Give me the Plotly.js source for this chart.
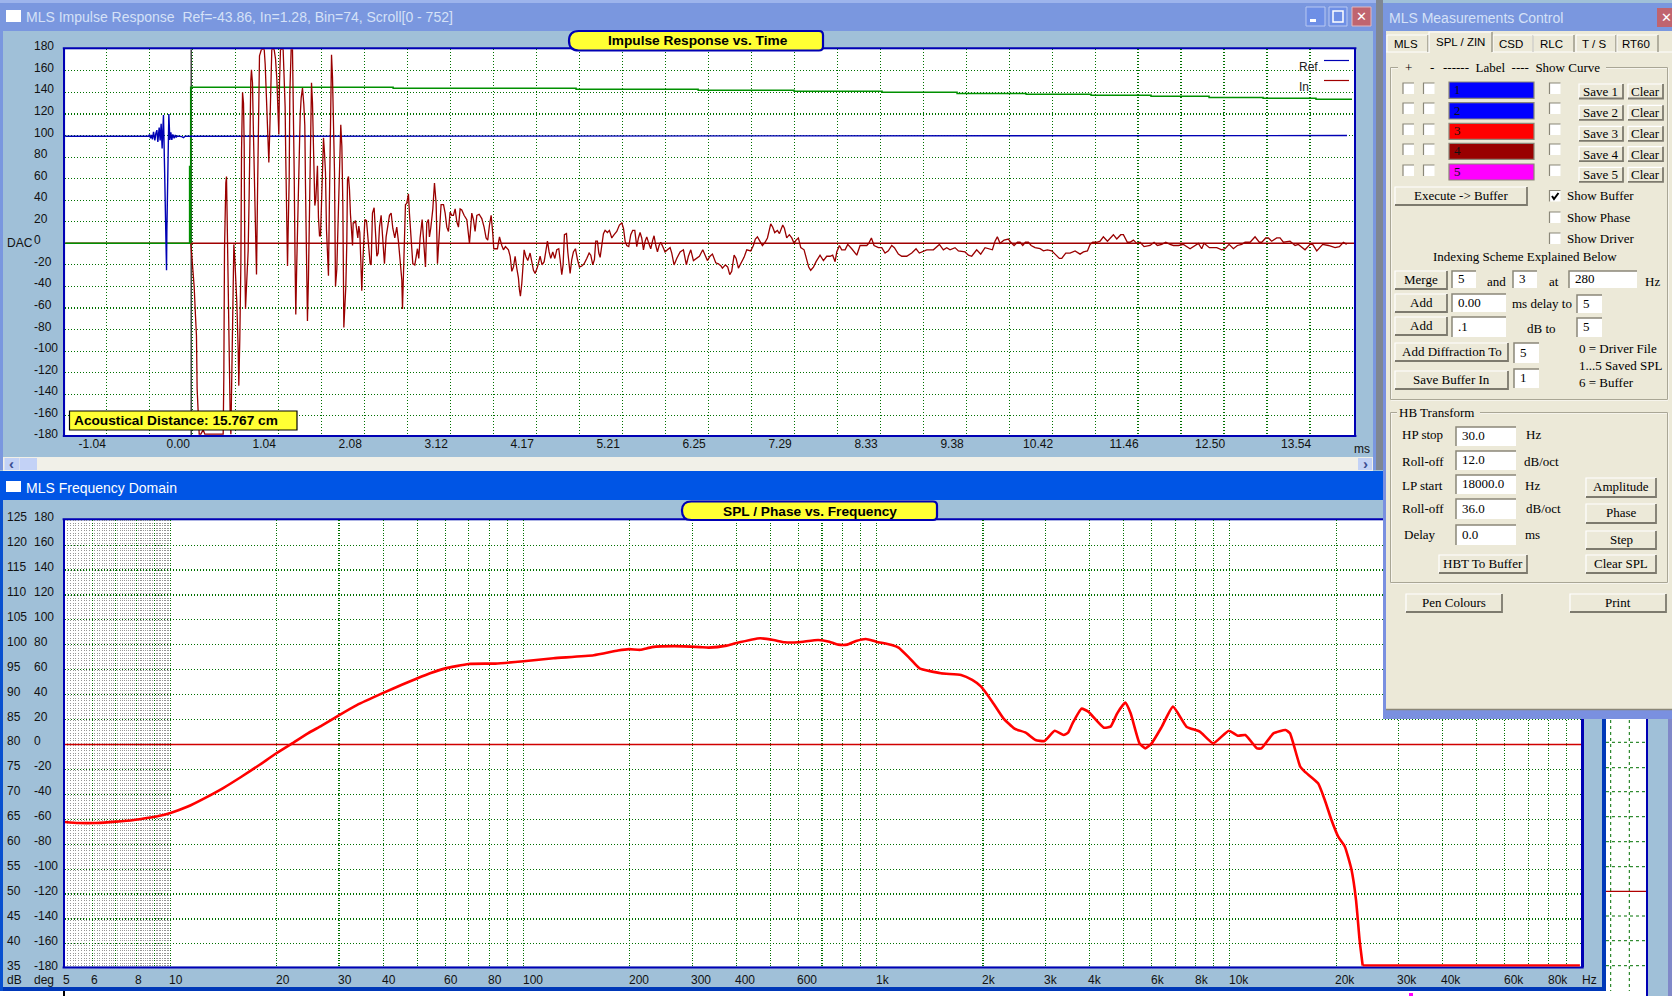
<!DOCTYPE html>
<html><head><meta charset="utf-8">
<script src="https://cdn.plot.ly/plotly-3.0.1.min.js"></script>
<style>html,body{margin:0;padding:0;background:#A0C0D8;overflow:hidden}#chart{width:1672px;height:996px}</style>
</head><body><div id="chart"></div>
<script>
// ---------- Impulse response data (ms / DAC) ----------
const refMs=[-1.55,-0.522,-0.510,-0.498,-0.486,-0.474,-0.461,-0.445,-0.433,-0.421,-0.409,-0.393,-0.381,-0.369,-0.357,-0.341,-0.328,-0.316,-0.304,-0.300,-0.288,-0.276,-0.264,-0.252,-0.240,-0.228,-0.212,-0.199,-0.187,-0.171,-0.119,-0.099,-0.079,-0.018,0.224,0.224,13.97];
const refDac=[99.3,99.3,101,97.5,100.5,96.5,103.5,95.5,102,105,94,107.5,95.5,111,88,119,71,14,-25,12,83,120,96,103,96,101,97.5,100.5,98.5,99.5,99,98,99.3,99.3,99.3,100,100];
const energyMs=[-1.55,-0.025,-0.025,-0.025,-0.012,2.436,4.648,6.124,7.284,8.348,9.255,10.090,10.875,11.600,12.302,12.955,13.595,14.030];
const energyDac=[0,0,72,0,144.7,143.8,142.9,141.9,141.0,140.1,139.1,138.2,137.3,136.4,135.4,134.5,133.6,133.6];
const inMs=[-0.010,-0.002,0.014,0.030,0.046,0.058,0.066,0.079,0.091,0.111,0.139,0.159,0.199,0.381,0.389,0.397,0.413,0.421,0.429,0.441,0.453,0.465,0.474,0.486,0.498,0.510,0.522,0.534,0.546,0.562,0.570,0.582,0.595,0.603,0.615,0.627,0.635,0.643,0.651,0.663,0.683,0.695,0.703,0.715,0.723,0.735,0.748,0.760,0.776,0.784,0.796,0.808,0.820,0.844,0.877,0.889,0.901,0.913,0.925,0.933,0.945,0.957,0.969,0.997,1.014,1.030,1.046,1.054,1.062,1.074,1.106,1.114,1.130,1.138,1.151,1.159,1.167,1.179,1.187,1.203,1.219,1.227,1.239,1.251,1.259,1.271,1.284,1.296,1.312,1.324,1.340,1.356,1.368,1.376,1.388,1.400,1.412,1.425,1.437,1.449,1.461,1.469,1.481,1.489,1.501,1.509,1.521,1.533,1.546,1.558,1.570,1.582,1.594,1.606,1.618,1.630,1.642,1.654,1.666,1.679,1.691,1.703,1.715,1.727,1.739,1.755,1.767,1.779,1.791,1.803,1.816,1.828,1.840,1.852,1.864,1.876,1.884,1.896,1.908,1.920,1.932,1.945,1.953,1.965,1.981,1.997,2.009,2.021,2.033,2.045,2.057,2.069,2.081,2.094,2.114,
2.138,2.158,2.170,2.186,2.206,2.222,2.239,2.255,2.271,2.291,2.311,2.331,2.351,2.371,2.392,2.412,2.432,2.456,2.480,2.500,2.521,2.541,2.549,2.561,2.573,2.585,2.601,2.621,2.633,2.654,2.674,2.698,2.714,2.730,2.746,2.762,2.787,2.803,2.827,2.843,2.863,2.875,2.891,2.916,2.936,2.956,2.972,2.992,3.016,3.045,3.065,3.085,3.105,3.125,3.145,3.165,3.186,3.206,3.226,3.246,3.266,3.294,3.327,3.359,3.387,3.407,3.427,3.448,3.476,3.508,3.536,3.560,3.580,3.601,3.621,3.641,3.653,3.697,3.722,3.750,3.770,3.794,3.830,3.851,3.871,3.891,3.911,3.931,3.951,3.963,3.975,3.992,4.004,4.020,4.040,4.064,4.092,4.112,4.133,4.153,4.181,4.213,4.237,4.262,4.278,4.302,4.322,4.342,4.366,4.391,4.415,4.439,4.455,4.475,4.491,4.507,4.532,4.548,4.576,4.596,4.616,4.640,4.665,4.689,4.717,4.745,4.777,4.806,4.826,4.850,4.870,4.886,4.906,4.923,4.939,4.959,4.979,4.999,5.027,5.051,5.080,5.108,5.140,5.172,5.201,5.221,5.241,5.261,5.285,5.309,5.333,5.358,5.382,5.402,5.422,5.442,5.463,5.483,5.503,5.527,5.551,5.575,5.591,5.612,5.632,5.652,
5.672,5.696,5.724,5.753,5.785,5.805,5.833,5.865,5.906,5.946,5.982,6.006,6.035,6.067,6.099,6.139,6.180,6.208,6.236,6.268,6.297,6.337,6.369,6.401,6.417,6.454,6.482,6.506,6.530,6.559,6.583,6.611,6.639,6.679,6.712,6.760,6.792,6.816,6.841,6.873,6.901,6.933,6.962,7.002,7.026,7.050,7.082,7.107,7.147,7.167,7.195,7.227,7.256,7.284,7.308,7.336,7.365,7.405,7.437,7.461,7.485,7.518,7.550,7.598,7.639,7.679,7.719,7.751,7.780,7.800,7.832,7.860,7.901,7.933,7.981,8.042,8.082,8.122,8.163,8.187,8.219,8.251,8.304,8.344,8.384,8.424,8.465,8.497,8.545,8.586,8.646,8.707,8.759,8.799,8.848,8.888,8.969,9.009,9.041,9.089,9.130,9.170,9.230,9.271,9.351,9.392,9.432,9.492,9.541,9.593,9.633,9.682,9.714,9.742,9.775,
9.823,9.876,9.904,9.944,9.985,10.017,10.049,10.081,10.118,10.150,10.198,10.259,10.299,10.347,10.400,10.440,10.492,10.521,10.569,10.621,10.682,10.742,10.783,10.831,10.863,10.895,10.944,10.984,11.024,11.073,11.145,11.186,11.234,11.266,11.314,11.347,11.387,11.427,11.468,11.516,11.589,11.637,11.677,11.730,11.778,11.830,11.871,11.931,11.992,12.072,12.112,12.173,12.213,12.241,12.306,12.395,12.455,12.495,12.544,12.596,12.644,12.697,12.737,12.798,12.858,12.910,12.939,12.987,13.019,13.059,13.120,13.160,13.201,13.281,13.342,13.382,13.462,13.523,13.555,13.604,13.676,13.745,13.825,13.878,13.926,13.966];
const inDac=[0,-9,-18,-40,-67,-86,-135,-157,-177,-177,-173,-177,-177,-177,-122,-6,56,62,24,-52,-114,-157,-177,-126,-61,-1,-15,-33,-55,-98,-132,-89,-18,86,140,130,90,-21,-61,-40,-7,44,109,151,161,149,98,50,-2,-29,44,129,174,180,180,166,140,113,87,75,106,146,180,180,171,152,118,101,149,180,180,161,127,78,11,-21,13,59,140,180,180,146,69,-21,-66,-18,24,76,118,135,144,129,109,55,-27,-72,-33,28,103,149,130,93,72,35,41,55,72,24,7,7,33,75,98,84,66,13,-6,-30,41,149,175,154,112,66,-40,-24,10,47,90,110,90,35,-78,-58,-40,1,59,62,50,27,7,-2,19,19,21,10,5,16,10,-16,-44,-18,7,22,21,
-6,-19,-20,28,33,6,-12,-9,15,26,6,-19,6,15,26,28,14,5,15,2,-14,-34,-61,-34,12,36,37,46,28,6,-19,-20,-12,-5,-14,5,22,6,-22,19,22,6,14,32,56,37,-19,6,36,36,28,15,11,29,26,26,32,20,15,32,31,26,22,0,28,22,11,26,27,23,15,5,3,17,26,9,-5,-5,6,-2,-6,-3,-6,-12,-26,-22,-12,-23,-32,-43,-49,-37,-19,-6,-12,-16,-9,-17,-25,-28,-22,-12,-20,-17,-9,2,-8,-14,-8,-14,-6,-5,-15,-29,-20,8,9,-8,-28,-15,-8,-5,-15,-22,-21,-19,-14,-9,-11,-20,-15,2,2,-9,-13,-2,9,12,10,12,5,8,11,17,19,14,2,-2,-3,8,12,12,-3,5,10,5,-6,2,6,0,-5,3,7,-2,-8,-2,
1,-3,-8,-6,-4,-9,-20,-14,-8,-6,-20,-12,-6,-16,-14,-12,-6,-11,-16,-12,-10,-18,-19,-21,-23,-20,-22,-29,-26,-11,-14,-23,-19,-13,-6,-7,-2,4,6,2,-2,1,5,18,15,10,12,9,17,14,5,8,5,0,3,5,-4,-6,-14,-22,-25,-22,-17,-11,-16,-12,-12,-11,-17,-8,-2,-6,-6,-1,-5,-11,-2,-2,-2,0,5,-2,-4,-4,-9,-7,-2,-4,-10,-12,-12,-9,-5,-9,-7,-6,-6,-3,-1,-6,-4,-6,-4,-7,-8,-11,-12,-6,-10,-4,-5,-6,2,6,0,
3,4,1,-2,1,1,-2,1,1,-2,-4,-5,-7,-6,-7,-10,-14,-14,-9,-9,-7,-10,-8,-7,-1,1,1,2,6,2,8,4,8,8,1,1,3,0,1,-3,-2,1,-2,-1,1,-1,-2,-2,-1,-5,-3,0,-5,0,-4,-4,-6,-5,-1,-5,-2,-1,1,1,6,1,1,5,5,2,5,5,1,2,-2,-1,-6,-1,-1,-7,-1,-2,-4,-3,1,-1];
const zeroMs=[-1.55,14.08];
const zeroDac=[0,0];
const t0Ms=[-0.012,-0.012];
const t0Dac=[-178,180];
const timeTickLabels=["-1.04","","0.00","","1.04","","2.08","","3.12","","4.17","","5.21","","6.25","","7.29","","8.33","","9.38","","10.42","","11.46","","12.50","","13.54"];
const dacLabels=[180,160,140,120,100,80,60,40,20,0,-20,-40,-60,-80,-100,-120,-140,-160,-180];

// ---------- Frequency domain data (Hz / dB) ----------
const splHz=[5.02,5.48,6.15,7.01,7.88,9.11,10,11.2,12.55,14.1,15.84,17.8,19.9,22.1,24.5,26.8,29.9,33.8,39.9,45.2,49.7,54.6,59.7,69.9,83.2,100,121.5,158,185,199,214,231,267,316,334.6,375.8,398.4,467.5,510,548.8,598.9,682.7,734.3,778,824.8,874,931.9,996.5,1103,1153,1239.6,1321.7,1519.7,1732.6,1863.6,1975,2123.6,2284,2456.4,2641.8,2816.5,2985,3192,3382,3482,3585,3801,3971,4396,4593,4797,5056,5236,5549,5763,6004,6417,6902,7534,8220,8971,9931,10527,11062,11933,12286,13285,14378,14797,15823,16291,17775,18570,19397,20267,21168,22112,22765,23302,23778];
const splDb=[64.46,64.26,64.26,64.53,64.87,65.54,66.28,67.56,69.3,71.26,73.48,75.84,78.19,80.21,82.23,83.78,85.8,87.95,90.3,91.99,93.2,94.34,95.22,96.16,96.23,96.7,97.3,97.91,98.85,99.12,98.99,99.53,99.73,99.53,99.43,99.83,100.3,101.3,100.96,100.5,100.5,100.96,100.63,100.03,100.03,100.76,101.16,100.63,99.96,99.43,97.29,95.28,94.28,93.94,92.94,91.6,88.59,85.25,83.18,82.37,80.9,80.7,82.77,81.9,82.37,84.25,87.19,86.59,83.38,83.58,86.25,88.39,86.25,80.23,79.23,80.23,83.58,87.59,83.58,82.57,80.23,82.77,81.77,81.9,79.23,79.23,82.24,82.91,82.24,75.55,74.55,72.21,68.87,64.85,61.51,59.5,54.82,48.8,40.78,35.65];
const floorHz=[23778,98000];
const floorDb=[35.65,35.65];
const refLevelHz=[5,100000];
const refLevelDb=[80,80];
const freqTickVals=[5,6,8,10,20,30,40,60,80,100,200,300,400,600,1000,2000,3000,4000,6000,8000,10000,20000,30000,40000,60000,80000];
const freqTickLabels=["5","6","8","10","20","30","40","60","80","100","200","300","400","600","1k","2k","3k","4k","6k","8k","10k","20k","30k","40k","60k","80k"];
const freqGrid=[6,7,8,9,10,20,30,40,50,60,70,80,90,100,200,300,400,500,600,700,800,900,1000,2000,3000,4000,5000,6000,7000,8000,9000,10000,20000,30000,40000,50000,60000,70000,80000,90000];
const dbLabels=[125,120,115,110,105,100,95,90,85,80,75,70,65,60,55,50,45,40,35];
const degLabels=[180,160,140,120,100,80,60,40,20,0,-20,-40,-60,-80,-100,-120,-140,-160,-180];

// ---------- layout constants ----------
const W=1672,H=996;
const NARROW='"Liberation Sans",sans-serif', SANS='"Liberation Sans",sans-serif', SERIF='"Liberation Serif",serif';
const GREEN='#007000', WIN='#A0C0D8', NAVY='#0000B4', FACE='#ECE9D8', AX=12;
const P1={L:65.2,R:1354,T:49.3,B:435}, P2={L:65,R:1581.3,T:520.3,B:966.6};
const xR=[-1.538,14.074], yR=[-177.8,180];
const x2R=[0.7013,4.9952], y2R=[35.45,124.97];
const X=p=>p/W, Y=p=>1-p/H;
const shapes=[], annos=[];
function rect(x0,y0,x1,y1,fill,layer,line,lw){shapes.push({type:'rect',xref:'paper',yref:'paper',x0:X(x0),x1:X(x1),y0:Y(y0),y1:Y(y1),fillcolor:fill||'rgba(0,0,0,0)',layer:layer||'above',line:{width:lw||0,color:line||'rgba(0,0,0,0)'}});}
function seg(pts,color,lw,layer,dash){shapes.push({type:'path',xref:'paper',yref:'paper',layer:layer||'above',path:pts.map((p,i)=>(i?'L':'M')+X(p[0]).toFixed(6)+','+Y(p[1]).toFixed(6)).join(' '),line:{color,width:lw||1,dash:dash||'solid'}});}
function text(x,y,t,o){o=o||{};const fam=o.f||SERIF;annos.push({xref:'paper',yref:'paper',x:X(x),y:Y(fam===SERIF?y-0.8:y),text:t,showarrow:false,xanchor:o.a||'left',yanchor:'middle',borderpad:0,borderwidth:0,align:o.a||'left',
 font:{family:fam,size:o.s||13,color:o.c||'#000',weight:o.w||400}});}
function pill(x0,y0,x1,y1){const r=(y1-y0)/2, f=(a,b)=>X(a).toFixed(6)+','+Y(b).toFixed(6);
 shapes.push({type:'path',xref:'paper',yref:'paper',layer:'above',fillcolor:'#FFFF33',line:{color:NAVY,width:2.2},
  path:`M ${f(x0+r,y0)} L ${f(x1-4,y0)} Q ${f(x1,y0)} ${f(x1,y0+4)} L ${f(x1,y1-4)} Q ${f(x1,y1)} ${f(x1-4,y1)} L ${f(x0+r,y1)} Q ${f(x0,y1)} ${f(x0,y0+r)} Q ${f(x0,y0)} ${f(x0+r,y0)} Z`});}
function button(x0,y0,x1,y1,label,tx,ty){rect(x0,y0,x1,y1,FACE);
 seg([[x0,y1],[x0,y0],[x1,y0]],'#fff',1.2);seg([[x0,y1],[x1,y1],[x1,y0]],'#7d7a6e',1.8);
 text(tx||(x0+x1)/2,ty||(y0+y1)/2,label,{a:'center'});}
function field(x0,y0,x1,y1,v,tx,ty){rect(x0,y0,x1,y1,'#fff');seg([[x0,y1],[x0,y0],[x1,y0]],'#8a8778',1.5);text(tx||x0+6,ty||(y0+y1)/2,v);}
function check(x0,y0,on){rect(x0,y0,x0+11,y0+11,'#fff');seg([[x0,y0+11],[x0,y0],[x0+11,y0]],'#8a8778',1.2);
 if(on)seg([[x0+2.5,y0+5.5],[x0+4.5,y0+8.5],[x0+9,y0+2.5]],'#000',2);}

// ---------- window chrome behind the plots ----------
rect(P1.L,P1.T,P1.R,P1.B,'#fff','below');
rect(P2.L,P2.T,P2.R,P2.B,'#fff','below');
rect(P1.L-2.4,P1.T-2,P1.R+2.4,P1.T,NAVY,'below');rect(P1.L-2.4,P1.B,P1.R+2.4,P1.B+2,NAVY,'below');
rect(P2.L-2.4,P2.T-2,P2.R+2.4,P2.T,NAVY,'below');rect(P2.L-2.4,P2.B,P2.R+2.4,P2.B+2,NAVY,'below');
rect(0,0,1376,31,'#7A97DF','below');rect(0,0,1376,3,'#9DB4EC','below');
rect(0,30,3,470,'#7A97DF','below');rect(1373,30,1376,470,'#7A97DF','below');
rect(1376,0,1383,470,'#7F8793','below');
rect(3,457,1373,471,'#F1F0E8','below');
rect(4.5,458,19,470,'#C3D2F6','below');rect(19.5,458,37,470,'#C3D2F6','below');rect(1358,458,1372,470,'#C3D2F6','below');
text(11.5,463.5,'‹',{a:'center',f:SANS,s:15,c:'#3B4E92',w:700});text(1365,463.5,'›',{a:'center',f:SANS,s:15,c:'#3B4E92',w:700});
rect(0,471,1383,500,'#0055E5','below');
rect(0,500,3,991,'#0850D0','below');
rect(6,10,21,22,'#fff','below');rect(6,481,21,492,'#fff','below');
// window buttons
rect(1306,7,1325,26,'#6E8FE6','below','#B8C8F2',1);rect(1329,7,1347,26,'#6E8FE6','below','#B8C8F2',1);rect(1352,7,1371,26,'#C0646F','below','#E0B8C0',1);
rect(1310,19,1316,22,'#fff','below');rect(1333,11,1343,22,'rgba(0,0,0,0)','below','#fff',1.5);
text(1361.5,16.5,'✕',{a:'center',f:'"DejaVu Sans",sans-serif',s:13,c:'#fff',w:700});
text(26,17,'MLS Impulse Response&#160;&#160;Ref=-43.86, In=1.28, Bin=74, Scroll[0 - 752]',{f:NARROW,s:14,c:'#D5E1F7'});
text(26,488,'MLS Frequency Domain',{f:NARROW,s:14,c:'#fff'});
// bottom window frame and window behind it
rect(1602,500,1606,991,'#0038B8','below');rect(3,987,1606,991,'#0038B8','below');
rect(1606,700,1646,996,'#fff','below');rect(1646,700,1648,996,NAVY,'below');rect(1648,700,1668,996,WIN,'below');rect(1668,700,1672,996,'#8088C8','below');
rect(0,991,1606,996,'#fff','below');rect(63,991,65,996,'#000','below');rect(1409,993,1413,996,'#FF00FF','below');
[742.3,767.7,791.7,816.7,841.7,866.7,916,940.7,965.7].forEach(y=>seg([[1606,y],[1646,y]],GREEN,1,'below','dot'));
[1610.7,1629.3].forEach(x=>seg([[x,720],[x,991]],GREEN,1,'below','dot'));
seg([[1606,891.3],[1646,891.3]],'#B00000',1.2,'below');

// ---------- plot furniture ----------
pill(569,31,823,50.5);pill(682,501.5,937,520);
text(698,40.5,'Impulse Response vs. Time',{a:'center',f:SANS,s:13.7,w:700});
text(809.5,511,'SPL / Phase vs. Frequency',{a:'center',f:SANS,s:13.7,w:700});
rect(69.5,411,297,430,'#FFFF33','above','#000',1.2);
text(74,420.5,'Acoustical Distance: 15.767 cm',{f:SANS,s:13.7,w:700});
seg([[1324,60.5],[1349,60.5]],NAVY,1.2);seg([[1324,80.5],[1349,80.5]],'#A00000',1.2);
text(1299,67,'Ref',{f:NARROW,s:AX,c:'#222'});text(1299,87.5,'In',{f:NARROW,s:AX,c:'#222'});

// axis tick labels that sit beside the grid, read through the axis scales
const yp1=v=>P1.B-(v-yR[0])/(yR[1]-yR[0])*(P1.B-P1.T);
const yp2=v=>P2.B-(v-y2R[0])/(y2R[1]-y2R[0])*(P2.B-P2.T);
const xp2=f=>P2.L+(Math.log10(f)-x2R[0])/(x2R[1]-x2R[0])*(P2.R-P2.L);
dacLabels.forEach(v=>text(34,yp1(v)-3,String(v),{f:NARROW,s:AX,c:'#111'}));
text(6.5,243,'DAC',{f:NARROW,s:AX,c:'#111'});
text(1354,449,'ms',{f:NARROW,s:AX,c:'#111'});
dbLabels.forEach((v,i)=>{const y=yp2(v)-3;text(7,y,String(v),{f:NARROW,s:AX,c:'#111'});text(34,y,String(degLabels[i]),{f:NARROW,s:AX,c:'#111'});});
text(7,979.5,'dB',{f:NARROW,s:AX,c:'#111'});text(34,979.5,'deg',{f:NARROW,s:AX,c:'#111'});
freqTickVals.forEach((f,i)=>text(xp2(f)-1,979.5,freqTickLabels[i],{f:NARROW,s:AX,c:'#111'}));
text(1582,979.5,'Hz',{f:NARROW,s:AX,c:'#111'});

// ---------- control panel (drawn over the plots) ----------
rect(1383,3,1672,719,'#7A90E0');rect(1383,3,1672,31,'#7A97DF');
rect(1386,31,1672,710,FACE);seg([[1386,709.5],[1672,709.5]],'#8a8778',1.6);
text(1389,18,'MLS Measurements Control',{f:NARROW,s:14,c:'#D5E1F7'});
rect(1657,8,1672,27,'#C0646F');text(1666,17.5,'✕',{a:'center',f:'"DejaVu Sans",sans-serif',s:13,c:'#fff',w:700});
seg([[1386,52],[1429,52]],'#fff',1);seg([[1492,52],[1672,52]],'#fff',1);
[[1387,1428,'MLS',44],[1493,1533,'CSD',44],[1533,1574,'RLC',44],[1576,1616,'T / S',44],[1617,1658,'RT60',44]].forEach(t=>{
 seg([[t[0],52],[t[0],35],[t[1],35]],'#fff',1);seg([[t[1],35],[t[1],52]],'#8a8778',1.2);text((t[0]+t[1])/2-2,t[3],t[2],{a:'center',f:SANS,s:11.5});});
seg([[1429,53],[1429,32],[1492,32]],'#fff',1.2);seg([[1492,32],[1492,52]],'#8a8778',1.2);text(1460.5,42,'SPL / ZIN',{a:'center',f:SANS,s:11.5});
// group boxes
rect(1391,68,1668,400,'rgba(0,0,0,0)','above','#fff',1);rect(1390.5,67.5,1667.5,399.5,'rgba(0,0,0,0)','above','#A9A695',1);
rect(1391,413,1668,583,'rgba(0,0,0,0)','above','#fff',1);rect(1390.5,412.5,1667.5,582.5,'rgba(0,0,0,0)','above','#A9A695',1);
rect(1398,62,1606,74,FACE);rect(1397,407,1480,419,FACE);
text(1408,68,'+',{a:'center'});text(1432,68,'-',{a:'center'});text(1443,68,'------&#160;&#160;Label&#160;&#160;----&#160;&#160;Show Curve');
const rowY=[[82,98.3],[102.7,119],[123.3,139.3],[143.3,159.3],[164,180]];
const swatches=['#0000FF','#0000FF','#FF0000','#990000','#FF00FF'];
const cbY=[83,103,124,144,165];
rowY.forEach((r,i)=>{check(1403,cbY[i]);check(1423.5,cbY[i]);check(1549.5,cbY[i]);
 rect(1449,r[0],1534,r[1],swatches[i],'above','#8a8778',1.2);text(1454,(r[0]+r[1])/2,String(i+1),{c:'#111'});
 const by=[84,105.3,126.3,146.7,167.3][i];
 button(1579,by,1623,by+14.5,'Save '+(i+1),1600.5,by+8.2);button(1628,by,1663,by+14.5,'Clear',1645.5,by+8.2);});
button(1395,187,1527,205,'Execute -> Buffer');
check(1549.5,190.5,true);text(1567,196,'Show Buffer');check(1549.5,212,false);text(1567,218,'Show Phase');check(1549.5,233,false);text(1567,239,'Show Driver');
text(1525,257,'Indexing Scheme Explained Below',{a:'center'});
button(1395,271,1447,289,'Merge');field(1452,271,1476,288,'5');text(1487,282,'and');field(1513,271,1537,288,'3');text(1549,282,'at');field(1569,271,1637,288,'280');text(1645,282,'Hz');
button(1395,294,1447,312,'Add');field(1452,294,1506,312,'0.00');text(1512,304,'ms delay to');field(1577,295,1602,313,'5');
button(1395,317,1447,335,'Add');field(1452,317,1506,337,'.1');text(1527,329,'dB to');field(1577,318,1602,337,'5');
button(1395,343,1508,361,'Add Diffraction To');field(1514,343,1539,363,'5');
button(1395,371,1508,389,'Save Buffer In');field(1514,369,1539,388,'1');
text(1579,349,'0 = Driver File');text(1579,366,'1...5 Saved SPL');text(1579,383,'6 = Buffer');
text(1399,413,'HB Transform');
text(1402,435,'HP stop');text(1402,462,'Roll-off');text(1402,486,'LP start');text(1402,509,'Roll-off');text(1404,535,'Delay');
field(1456,427,1516,446,'30.0');field(1456,451,1516,470,'12.0');field(1456,475,1516,494,'18000.0');field(1456,499,1516,519,'36.0');field(1456,525,1516,545,'0.0');
text(1526,435,'Hz');text(1524,462,'dB/oct');text(1525,486,'Hz');text(1526,509,'dB/oct');text(1525,535,'ms');
button(1586,478,1656,497,'Amplitude');button(1586,504,1656,523,'Phase');button(1586,531,1656,549,'Step');button(1586,555,1656,573,'Clear SPL');
button(1439,555,1527,573,'HBT To Buffer');
button(1406,594,1502,612,'Pen Colours');button(1570,594,1666,612,'Print');

// ---------- traces ----------
const cal=t=>t*1.00182-0.006;   // pen position of the time base
const common={mode:'lines',hoverinfo:'skip',cliponaxis:false};
const traces=[
 {...common,name:'t0',x:t0Ms,y:t0Dac,line:{color:'#000',width:1.1}},
 {...common,name:'In zero',x:zeroMs,y:zeroDac,line:{color:'#A00000',width:1.5}},
 {...common,name:'Energy',x:energyMs.map(cal),y:energyDac,line:{color:'#009000',width:1.5,shape:'hv'}},
 {...common,name:'Ref',x:refMs.map(cal),y:refDac,line:{color:'#0000B4',width:1.4}},
 {...common,name:'In',x:inMs.map(cal),y:inDac,line:{color:'#990000',width:1.3}},
 {...common,name:'0 dB',x:refLevelHz,y:refLevelDb,xaxis:'x2',yaxis:'y2',cliponaxis:true,line:{color:'#D00000',width:1.3}},
 {...common,name:'SPL',x:splHz,y:splDb,xaxis:'x2',yaxis:'y2',line:{color:'#FF0000',width:2.6,shape:'spline',smoothing:0.45}},
 {...common,name:'SPL floor',x:floorHz,y:floorDb,xaxis:'x2',yaxis:'y2',line:{color:'#FF0000',width:2.6}}
];
const gridStyle={showgrid:true,gridcolor:GREEN,gridwidth:1.15,griddash:'1px,2px',zeroline:false,showline:true,mirror:true,linecolor:NAVY,linewidth:2.4,ticks:''};
const layout={width:W,height:H,margin:{l:0,r:0,t:0,b:0},paper_bgcolor:WIN,plot_bgcolor:'rgba(0,0,0,0)',showlegend:false,
 xaxis:{...gridStyle,showline:false,domain:[X(P1.L),X(P1.R)],range:xR,anchor:'y',tickmode:'array',tickvals:timeTickLabels.map((_,k)=>(k-2)*0.520833),ticktext:timeTickLabels,
  ticklabelshift:-14,ticklabelstandoff:8.8,tickfont:{family:NARROW,size:AX,color:'#111'}},
 yaxis:{...gridStyle,domain:[Y(P1.B),Y(P1.T)],range:yR,anchor:'x',tickmode:'array',tickvals:dacLabels,ticktext:dacLabels.map(()=>''),showticklabels:false},
 xaxis2:{...gridStyle,showline:false,griddash:'1px,1.5px',type:'log',domain:[X(P2.L),X(P2.R)],range:x2R,anchor:'y2',tickmode:'array',tickvals:freqGrid,ticktext:freqGrid.map(()=>''),showticklabels:false,
  minor:{showgrid:true,gridcolor:'#6a6a6a',gridwidth:0.7,griddash:'1px,1.5px',tickmode:'array',tickvals:Array.from({length:49},(_,i)=>5.1+i*0.1),ticks:''}},
 yaxis2:{...gridStyle,domain:[Y(P2.B),Y(P2.T)],range:y2R,anchor:'x2',tickmode:'array',tickvals:dbLabels,ticktext:dbLabels.map(()=>''),showticklabels:false},
 shapes,annotations:annos};
Plotly.newPlot('chart',traces,layout,{staticPlot:true,displayModeBar:false});
</script></body></html>
